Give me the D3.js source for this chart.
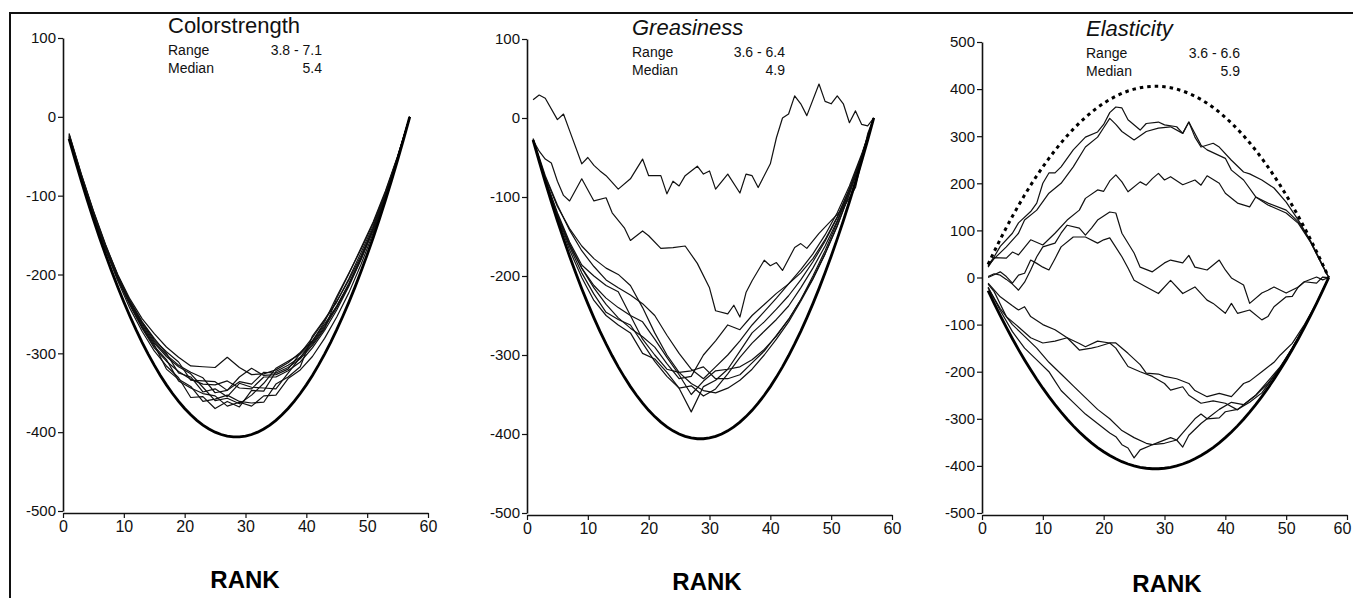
<!DOCTYPE html>
<html>
<head>
<meta charset="utf-8">
<script src="https://cdn.jsdelivr.net/npm/d3@7"></script>
<style>
html, body { margin: 0; padding: 0; background: #fff; }
svg { display: block; font-family: "Liberation Sans", Arial, Helvetica, sans-serif; }
</style>
</head>
<body>
<svg id="chart" width="1353" height="598"></svg>
<script>
// --- data ---
const rankTicks = [0, 10, 20, 30, 40, 50, 60];
const yTicksShort = [100, 0, -100, -200, -300, -400, -500];
const yTicksTall = [500, 400, 300, 200, 100, 0, -100, -200, -300, -400, -500];

const titles = ["Colorstrength", "Greasiness", "Elasticity"];
const rangeTexts = ["3.8 - 7.1", "3.6 - 6.4", "3.6 - 6.6"];
const medianTexts = ["5.4", "4.9", "5.9"];

// rank 1..57, for the bound curves
const allRanks = [1,2,3,4,5,6,7,8,9,10,11,12,13,14,15,16,17,18,19,20,21,22,23,24,25,26,27,28,29,
  30,31,32,33,34,35,36,37,38,39,40,41,42,43,44,45,46,47,48,49,50,51,52,53,54,55,56,57];
const lowerBound = [-28,-55,-81,-106,-130,-153,-175,-196,-216,-235,-253,-270,-286,-301,-315,-328,-340,-351,-361,
  -370,-378,-385,-391,-396,-400,-403,-405,-406,-406,-405,-403,-400,-396,-391,-385,-378,-370,-361,-351,-340,
  -328,-315,-301,-286,-270,-253,-235,-216,-196,-175,-153,-130,-106,-81,-55,-28,0];
const upperBound = [28,55,81,106,130,153,175,196,216,235,253,270,286,301,315,328,340,351,361,
  370,378,385,391,396,400,403,405,406,406,405,403,400,396,391,385,378,370,361,351,340,
  328,315,301,286,270,253,235,216,196,175,153,130,106,81,55,28,0];

// odd ranks, used by the tangled lines
const oddRanks = [1,3,5,7,9,11,13,15,17,19,21,23,25,27,29,31,33,35,37,39,41,43,45,47,49,51,53,55,57];

// Colorstrength
const color1 = [-26,-77,-124,-167,-206,-239,-268,-293,-310,-323,-333,-339,-340,-335,-344,-345,-330,-330,-322,-311,-293,-271,-245,-215,-181,-143,-100,-52,0];
const color2 = [-24,-75,-122,-165,-202,-233,-260,-281,-300,-325,-330,-349,-345,-355,-338,-343,-344,-345,-325,-305,-285,-260,-228,-198,-168,-135,-96,-51,0];
const color3 = [-28,-79,-126,-169,-208,-243,-272,-297,-316,-331,-356,-355,-370,-361,-368,-347,-348,-323,-315,-305,-288,-267,-242,-213,-180,-143,-100,-53,0];
const color4 = [-22,-73,-120,-163,-200,-231,-256,-275,-292,-305,-316,-317,-318,-305,-318,-327,-326,-321,-312,-299,-284,-263,-240,-211,-178,-141,-99,-52,0];
const color5 = [-25,-76,-123,-166,-204,-237,-266,-289,-320,-333,-342,-361,-358,-353,-361,-363,-362,-339,-330,-317,-278,-257,-234,-207,-176,-141,-99,-52,0];
const color6 = [-27,-78,-125,-167,-204,-235,-262,-285,-302,-315,-324,-331,-350,-347,-336,-339,-324,-325,-318,-307,-290,-269,-230,-199,-166,-133,-94,-50,0];
const color7 = [-23,-74,-121,-164,-203,-238,-267,-291,-308,-335,-344,-351,-354,-367,-362,-367,-354,-353,-332,-321,-304,-281,-254,-223,-187,-147,-102,-53,0];
const color8 = [-26,-77,-123,-165,-202,-234,-260,-283,-298,-311,-334,-335,-336,-347,-330,-319,-328,-327,-320,-300,-280,-258,-235,-205,-172,-138,-97,-51,0];
const color9 = [-21,-72,-119,-162,-201,-235,-264,-287,-304,-317,-326,-343,-360,-357,-364,-353,-338,-319,-310,-301,-286,-265,-240,-213,-180,-143,-100,-52,0];

// Greasiness
const grease1 = [-28,-77,-120,-157,-186,-200,-212,-220,-250,-280,-300,-318,-322,-320,-315,-330,-330,-325,-310,-295,-275,-255,-230,-203,-172,-137,-96,-51,0];
const grease2 = [-28,-79,-124,-163,-196,-223,-246,-255,-262,-285,-308,-327,-342,-339,-352,-343,-324,-303,-285,-270,-255,-238,-215,-190,-162,-130,-92,-49,0];
const grease3 = [-27,-75,-112,-140,-162,-178,-190,-198,-212,-240,-272,-300,-322,-336,-345,-348,-342,-332,-318,-300,-280,-258,-232,-204,-172,-136,-96,-50,0];
const grease4 = [-28,-78,-122,-161,-190,-212,-228,-240,-250,-258,-280,-303,-325,-350,-333,-320,-318,-295,-272,-258,-242,-225,-205,-182,-156,-126,-90,-48,0];
const grease5 = [-26,-73,-110,-142,-168,-188,-205,-215,-224,-235,-250,-275,-298,-318,-330,-315,-300,-282,-262,-245,-228,-210,-192,-172,-148,-120,-86,-46,0];
const grease6 = [-28,-79,-126,-167,-202,-231,-250,-262,-272,-298,-305,-322,-342,-372,-340,-332,-318,-315,-306,-293,-276,-255,-230,-200,-168,-132,-92,-49,0];
const grease7 = [-28,-78,-122,-159,-190,-215,-236,-253,-266,-277,-290,-311,-330,-327,-300,-282,-262,-268,-250,-236,-222,-210,-196,-178,-154,-125,-90,-48,0];
// [rank, value]
const greaseTop = [[1,23],[2,29],[3,25],[5,-2],[6,5],[7,-16],[9,-58],[10,-50],[11,-60],[12,-67],[13,-73],[15,-90],
  [17,-77],[19,-52],[20,-73],[22,-73],[23,-96],[24,-80],[25,-86],[26,-73],[28,-61],[29,-71],[30,-67],[31,-90],
  [33,-71],[35,-95],[36,-71],[37,-73],[38,-88],[40,-58],[41,-25],[42,0],[43,5],[44,28],[45,18],[46,3],[48,43],
  [49,21],[50,18],[51,28],[52,18],[53,-6],[54,9],[55,-8],[56,-10],[57,0]];
const greaseMid = [[1,-28],[2,-42],[3,-52],[4,-57],[5,-80],[6,-98],[7,-105],[9,-77],[11,-105],[13,-101],[14,-120],
  [16,-139],[17,-155],[19,-143],[20,-149],[22,-165],[24,-164],[26,-162],[28,-184],[30,-215],[31,-244],[33,-248],
  [34,-237],[35,-252],[36,-221],[37,-206],[39,-180],[40,-187],[41,-183],[42,-193],[44,-164],[45,-159],[46,-165],
  [48,-146],[50,-130],[52,-114],[54,-88],[55,-54],[56,-20],[57,0]];

// Elasticity, [rank, value]
const elastA1 = [[1,26],[2,44],[3,66],[5,94],[6,116],[8,140],[9,158],[10,200],[11,222],[12,222],[13,235],[15,271],
  [17,298],[19,309],[20,325],[21,350],[22,362],[23,360],[24,335],[26,313],[27,327],[29,330],[30,324],[32,320],
  [33,306],[34,330],[35,298],[36,277],[38,285],[39,277],[41,249],[43,224],[44,220],[46,207],[48,190],[50,160],
  [52,122],[54,78],[56,26],[57,0]];
const elastA2 = [[1,24],[2,40],[4,65],[6,94],[7,122],[9,143],[11,179],[13,200],[15,235],[17,277],[19,298],[20,318],
  [21,338],[22,325],[23,310],[25,292],[27,310],[29,317],[31,320],[33,306],[34,330],[36,281],[37,271],[40,253],
  [41,228],[43,207],[45,171],[47,158],[50,143],[52,118],[54,76],[56,25],[57,0]];
const elastB = [[1,22],[2,42],[4,41],[5,54],[6,48],[8,80],[10,69],[12,94],[14,122],[16,143],[17,168],[19,186],
  [20,183],[21,205],[22,218],[23,203],[24,182],[26,203],[27,196],[28,210],[29,221],[30,207],[31,214],[33,197],
  [35,207],[36,196],[37,216],[39,200],[40,179],[42,158],[44,150],[45,171],[47,154],[50,137],[52,115],[54,75],
  [56,24],[57,0]];
const elastD = [[1,2],[2,8],[3,5],[4,-4],[5,-14],[6,-27],[7,-10],[8,16],[9,44],[10,65],[12,73],[13,94],[14,111],
  [16,105],[17,90],[18,105],[19,122],[21,139],[22,137],[23,94],[25,52],[26,22],[28,12],[30,31],[31,37],[33,31],
  [34,47],[35,22],[37,16],[39,37],[40,16],[41,-1],[43,-16],[44,-55],[46,-33],[47,-27],[48,-20],[50,-33],[52,-20],
  [53,-9],[55,1],[56,-5],[57,0]];
const elastE = [[1,0],[2,6],[3,12],[4,2],[5,-12],[6,5],[7,9],[8,37],[9,30],[10,22],[11,16],[12,40],[13,65],[15,86],
  [17,86],[19,73],[20,80],[21,84],[23,44],[24,20],[25,-6],[27,-20],[29,-34],[31,-6],[33,-34],[35,-20],[37,-48],
  [38,-55],[40,-76],[41,-55],[42,-76],[44,-69],[46,-90],[47,-83],[48,-62],[50,-41],[51,-40],[52,-20],[53,-9],
  [55,-12],[56,1],[57,0]];
const elastF1 = [[1,-12],[3,-41],[5,-60],[6,-69],[7,-62],[8,-83],[10,-100],[12,-111],[14,-128],[16,-140],[17,-147],
  [19,-135],[21,-139],[22,-139],[24,-161],[26,-185],[27,-203],[29,-205],[30,-210],[32,-215],[34,-225],[35,-240],
  [37,-253],[39,-246],[41,-253],[43,-225],[44,-220],[46,-200],[48,-180],[49,-165],[51,-140],[53,-100],[55,-54],
  [56,-27],[57,0]];
const elastF2 = [[1,-14],[2,-30],[4,-83],[6,-105],[8,-128],[10,-139],[12,-135],[14,-128],[16,-154],[18,-150],
  [19,-147],[21,-139],[22,-150],[24,-189],[26,-200],[28,-210],[30,-225],[31,-239],[33,-232],[34,-250],[36,-267],
  [38,-262],[40,-267],[42,-281],[43,-270],[45,-250],[47,-220],[49,-190],[51,-150],[53,-104],[55,-54],[56,-27],[57,0]];
const elastF3 = [[1,-20],[3,-70],[5,-115],[7,-150],[9,-175],[11,-200],[12,-220],[13,-240],[15,-265],[17,-290],
  [19,-310],[21,-330],[22,-338],[23,-355],[24,-362],[25,-383],[26,-366],[28,-355],[30,-352],[32,-345],[33,-330],
  [35,-300],[36,-290],[37,-300],[39,-280],[41,-265],[43,-270],[45,-250],[47,-225],[49,-192],[51,-150],[53,-105],
  [55,-54],[56,-27],[57,0]];
const elastF4 = [[1,-22],[3,-66],[5,-100],[7,-125],[9,-150],[11,-180],[13,-205],[15,-230],[17,-255],[19,-280],
  [21,-300],[23,-325],[25,-340],[27,-352],[28,-355],[29,-350],[31,-340],[32,-345],[33,-360],[34,-335],[36,-310],
  [37,-300],[39,-298],[40,-285],[42,-280],[44,-265],[46,-245],[48,-210],[50,-172],[52,-128],[54,-80],[56,-27],[57,0]];

// helpers to pair values with ranks
const onRanks = (ranks, vals) => vals.map((v, i) => [ranks[i], v]);
const odd = vals => onRanks(oddRanks, vals);

// --- layout ---
const panels = [
  { title: titles[0], italic: false, range: rangeTexts[0], median: medianTexts[0],
    x0: 63, x1: 428, yTop: 38, yBot: 511, yTicks: yTicksShort,
    labelX: 168, titleY: 33, rangeY: 55, medianY: 73, valueX: 322, rankX: 245, rankY: 588,
    lines: [color1, color2, color3, color4, color5, color6, color7, color8, color9].map(odd),
    upper: null },
  { title: titles[1], italic: true, range: rangeTexts[1], median: medianTexts[1],
    x0: 527, x1: 892, yTop: 39, yBot: 513, yTicks: yTicksShort,
    labelX: 632, titleY: 35, rangeY: 57, medianY: 75, valueX: 785, rankX: 707, rankY: 590,
    lines: [grease1, grease2, grease3, grease4, grease5, grease6, grease7].map(odd).concat([greaseTop, greaseMid]),
    upper: null },
  { title: titles[2], italic: true, range: rangeTexts[2], median: medianTexts[2],
    x0: 982, x1: 1347, yTop: 42, yBot: 513, yTicks: yTicksTall,
    labelX: 1086, titleY: 36, rangeY: 58, medianY: 76, valueX: 1240, rankX: 1167, rankY: 592,
    lines: [elastA1, elastA2, elastB, elastD, elastE, elastF1, elastF2, elastF3, elastF4],
    upper: upperBound }
];

const svg = d3.select("#chart");

// frame round the figure (top and left edges)
svg.append("path")
  .attr("d", "M10,598 L10,13 L1353,13")
  .attr("fill", "none")
  .attr("stroke", "#111")
  .attr("stroke-width", 2);

panels.forEach((p, pi) => {
  const g = svg.append("g");
  const x = d3.scaleLinear().domain([0, 60]).range([p.x0, p.x1]);
  const y = d3.scaleLinear().domain([p.yTicks[p.yTicks.length - 1], p.yTicks[0]]).range([p.yBot, p.yTop]);
  const line = d3.line().x(d => x(d[0])).y(d => y(d[1]));

  // axes
  const yAxis = g.append("g")
    .attr("transform", `translate(${p.x0},0)`)
    .call(d3.axisLeft(y).tickValues(p.yTicks).tickSize(5).tickSizeOuter(0).tickPadding(2).tickFormat(d => String(d)));
  const xAxis = g.append("g")
    .attr("transform", `translate(0,${p.yBot + 2})`)
    .call(d3.axisBottom(x).tickValues(rankTicks).tickSize(5).tickSizeOuter(0).tickPadding(3).tickFormat(d => String(d)));
  [yAxis, xAxis].forEach(a => {
    a.attr("font-family", null).attr("font-size", null);
    a.select(".domain").attr("stroke", "#111").attr("stroke-width", 1.6);
    a.selectAll(".tick line").attr("stroke", "#111").attr("stroke-width", 1.2);
    a.selectAll(".tick text").attr("fill", "#111").style("font-size", "15px");
  });
  xAxis.selectAll(".tick text").style("font-size", "16px");
  // last panel runs to the page edge: keep its "60" inside
  if (pi === panels.length - 1) {
    xAxis.selectAll(".tick text").filter(d => d === 60).attr("dx", "-5");
  }

  // thin lines
  g.append("g")
    .selectAll("path")
    .data(p.lines)
    .join("path")
    .attr("d", line)
    .attr("fill", "none")
    .attr("stroke", "#111")
    .attr("stroke-width", 1.2)
    .attr("stroke-linejoin", "round");

  // lower bound, thick
  g.append("path")
    .datum(onRanks(allRanks, lowerBound))
    .attr("d", line)
    .attr("fill", "none")
    .attr("stroke", "#000")
    .attr("stroke-width", 2.8);

  // upper bound, dotted
  if (p.upper) {
    g.append("path")
      .datum(onRanks(allRanks, p.upper))
      .attr("d", line)
      .attr("fill", "none")
      .attr("stroke", "#000")
      .attr("stroke-width", 3)
      .attr("stroke-dasharray", "3.5,4");
  }

  // title block
  g.append("text")
    .attr("x", p.labelX).attr("y", p.titleY)
    .style("font-size", "22px")
    .style("font-style", p.italic ? "italic" : "normal")
    .attr("fill", "#111")
    .text(p.title);
  [["Range", p.range, p.rangeY], ["Median", p.median, p.medianY]].forEach(([lab, val, yy]) => {
    g.append("text").attr("x", p.labelX).attr("y", yy)
      .style("font-size", "14px").attr("fill", "#111").text(lab);
    g.append("text").attr("x", p.valueX).attr("y", yy)
      .attr("text-anchor", "end")
      .style("font-size", "14px").attr("fill", "#111").text(val);
  });

  // axis title
  g.append("text")
    .attr("x", p.rankX).attr("y", p.rankY)
    .attr("text-anchor", "middle")
    .style("font-size", "24px")
    .style("font-weight", "bold")
    .attr("fill", "#000")
    .text("RANK");
});
</script>
</body>
</html>
